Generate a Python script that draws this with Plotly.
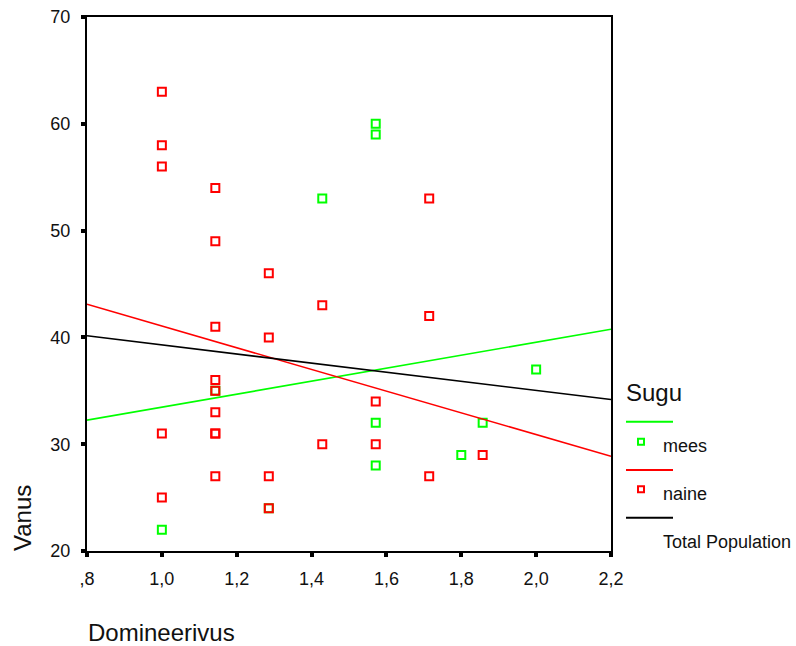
import plotly.graph_objects as go

# Scatter data: Domineerivus (x) vs Vanus (y), split by Sugu
mees_x = [1.0, 8/7, 9/7, 10/7, 11/7, 11/7, 11/7, 11/7, 1.8, 13/7, 2.0]
mees_y = [22, 35, 24, 53, 60, 59, 32, 28, 29, 32, 37]

naine_x = [1.0, 1.0, 1.0, 1.0, 1.0,
           8/7, 8/7, 8/7, 8/7, 8/7, 8/7, 8/7, 8/7, 8/7,
           9/7, 9/7, 9/7, 9/7,
           10/7, 10/7,
           11/7, 11/7,
           12/7, 12/7, 12/7,
           13/7]
naine_y = [63, 58, 56, 31, 25,
           54, 49, 41, 36, 35, 33, 31, 31, 27,
           46, 40, 27, 24,
           43, 30,
           34, 30,
           53, 42, 27,
           29]

# Linear fit lines evaluated at the axis ends
fit_x = [0.8, 2.2]
mees_fit = [32.25, 40.77]
naine_fit = [43.1, 28.87]
total_fit = [40.15, 34.18]

x_tickvals = [0.8, 1.0, 1.2, 1.4, 1.6, 1.8, 2.0, 2.2]
x_ticktext = [",8", "1,0", "1,2", "1,4", "1,6", "1,8", "2,0", "2,2"]
y_tickvals = [20, 30, 40, 50, 60, 70]

GREEN = "#00FF00"
RED = "#FF0000"
BLACK = "#000000"
FONT = "Liberation Sans, Arial, sans-serif"

W, H = 796, 646
L, R, T, B = 87, 185, 17, 95
PW, PH = W - L - R, H - T - B


def px(xp):
    return (xp - L) / PW


def py(yp):
    return (H - B - yp) / PH


fig = go.Figure()

marker_common = dict(symbol="square-open", size=8, line=dict(width=2))
fig.add_trace(go.Scatter(x=mees_x, y=mees_y, mode="markers",
                         marker=dict(color=GREEN, **marker_common), name="mees"))
fig.add_trace(go.Scatter(x=naine_x, y=naine_y, mode="markers",
                         marker=dict(color=RED, **marker_common), name="naine"))
fig.add_trace(go.Scatter(x=fit_x, y=mees_fit, mode="lines",
                         line=dict(color=GREEN, width=1.6), name="mees fit"))
fig.add_trace(go.Scatter(x=fit_x, y=naine_fit, mode="lines",
                         line=dict(color=RED, width=1.6), name="naine fit"))
fig.add_trace(go.Scatter(x=fit_x, y=total_fit, mode="lines",
                         line=dict(color=BLACK, width=1.6), name="Total Population"))

axis_common = dict(showgrid=False, zeroline=False, showline=True, linecolor="black",
                   linewidth=2, mirror=True, ticks="outside", ticklen=4, tickwidth=4,
                   tickcolor="black", automargin=False,
                   tickfont=dict(family=FONT, size=18, color="#111"))

fig.update_xaxes(range=[0.8, 2.2], tickmode="array", tickvals=x_tickvals,
                 ticktext=x_ticktext, ticklabelstandoff=6, **axis_common)
fig.update_yaxes(range=[20, 70], tickmode="array", tickvals=y_tickvals,
                 ticklabelstandoff=7, **axis_common)

# Axis titles
annotations = [
    dict(text="Vanus", x=px(22), y=py(518), xref="paper", yref="paper",
         textangle=-90, showarrow=False, xanchor="center", yanchor="middle",
         font=dict(family=FONT, size=24, color="#111")),
    dict(text="Domineerivus", x=px(86), y=py(632), xref="paper", yref="paper",
         showarrow=False, xanchor="left", yanchor="middle",
         font=dict(family=FONT, size=24, color="#111")),
    # Legend block
    dict(text="Sugu", x=px(624), y=py(392), xref="paper", yref="paper",
         showarrow=False, xanchor="left", yanchor="middle",
         font=dict(family=FONT, size=24, color="#111")),
]

legend_items = [("mees", GREEN, 421.7, 441.7, 446), ("naine", RED, 470, 489.3, 494)]
shapes = []
for label, color, line_y, mark_y, text_y in legend_items:
    shapes.append(dict(type="line", xref="paper", yref="paper",
                       x0=px(626), x1=px(673), y0=py(line_y), y1=py(line_y),
                       line=dict(color=color, width=2)))
    shapes.append(dict(type="rect", xref="paper", yref="paper",
                       x0=px(638), x1=px(644), y0=py(mark_y + 3), y1=py(mark_y - 3),
                       line=dict(color=color, width=2), fillcolor="rgba(0,0,0,0)"))
    annotations.append(dict(text=label, x=px(661), y=py(text_y), xref="paper",
                            yref="paper", showarrow=False, xanchor="left",
                            yanchor="middle",
                            font=dict(family=FONT, size=18, color="#111")))

shapes.append(dict(type="line", xref="paper", yref="paper",
                   x0=px(626), x1=px(673), y0=py(517.7), y1=py(517.7),
                   line=dict(color=BLACK, width=2)))
annotations.append(dict(text="Total Population", x=px(661), y=py(541.7), xref="paper",
                        yref="paper", showarrow=False, xanchor="left", yanchor="middle",
                        font=dict(family=FONT, size=18, color="#111")))

fig.update_layout(width=W, height=H, margin=dict(l=L, r=R, t=T, b=B, autoexpand=False),
                  plot_bgcolor="white", paper_bgcolor="white", showlegend=False,
                  annotations=annotations, shapes=shapes)

fig.write_html("out.html")
